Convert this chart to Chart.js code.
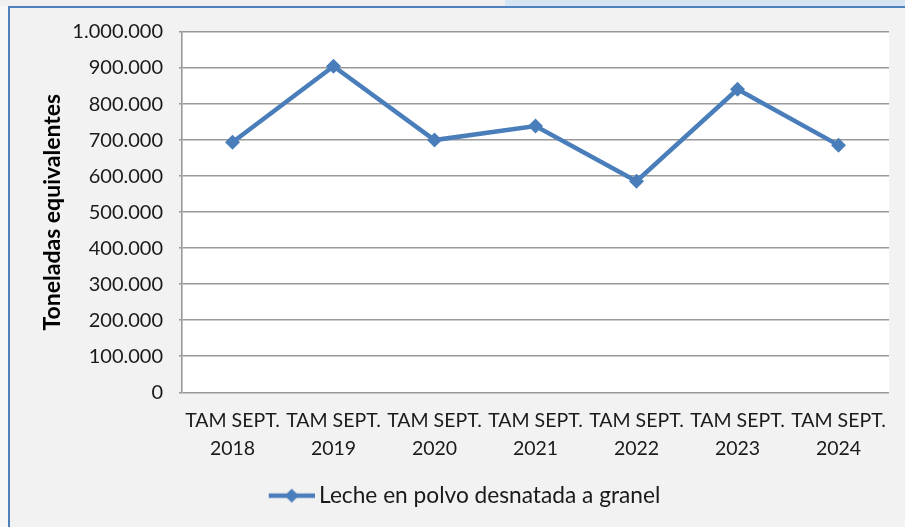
<!DOCTYPE html>
<html>
<head>
<meta charset="utf-8">
<script src="https://cdn.jsdelivr.net/npm/chart.js@4"></script>
<style>
  html, body { margin: 0; padding: 0; background: #f2f2f2; }
  #wrap { width: 905px; height: 527px; }
</style>
</head>
<body>
<div id="wrap"><canvas id="myChart" width="905" height="527"></canvas></div>
<script>
const categories = [
  ['TAM SEPT.', '2018'],
  ['TAM SEPT.', '2019'],
  ['TAM SEPT.', '2020'],
  ['TAM SEPT.', '2021'],
  ['TAM SEPT.', '2022'],
  ['TAM SEPT.', '2023'],
  ['TAM SEPT.', '2024']
];
const lecheValues = [694000, 905000, 700000, 739000, 586000, 841000, 686000];
const seriesName = 'Leche en polvo desnatada a granel';
const yTitle = 'Toneladas equivalentes';
const yMax = 1000000;
const yStep = 100000;

const blue = '#4a7ebb';
const font = 'Lato, "Noto Sans", sans-serif';

// legend marker: line with a diamond, left part transparent to push the item right
const legendIcon = document.createElement('canvas');
legendIcon.width = 93;
legendIcon.height = 16;
(() => {
  const c = legendIcon.getContext('2d');
  c.strokeStyle = blue;
  c.lineWidth = 4.5;
  c.beginPath();
  c.moveTo(47, 8);
  c.lineTo(93, 8);
  c.stroke();
  c.fillStyle = blue;
  c.beginPath();
  c.moveTo(70, 1);
  c.lineTo(77, 8);
  c.lineTo(70, 15);
  c.lineTo(63, 8);
  c.closePath();
  c.fill();
})();

const frame = {
  id: 'frame',
  beforeDraw(chart) {
    const ctx = chart.ctx;
    const a = chart.chartArea;
    ctx.save();
    ctx.fillStyle = '#f2f2f2';
    ctx.fillRect(0, 0, chart.width, chart.height);
    ctx.fillStyle = '#f7f7f7';
    ctx.fillRect(0, 0, 8, chart.height);
    ctx.fillStyle = '#f0f0f0';
    ctx.fillRect(0, 0, 505, 6);
    ctx.fillStyle = '#d6e5f3';
    ctx.fillRect(505, 0, chart.width - 505, 6);
    ctx.fillStyle = '#4f81bd';
    ctx.fillRect(8, 6, chart.width - 8, 2);
    ctx.fillRect(8, 6, 2, chart.height - 6);
    ctx.fillStyle = '#ffffff';
    ctx.fillRect(a.left, a.top, a.right - a.left, a.bottom - a.top);
    ctx.restore();
  }
};

new Chart(document.getElementById('myChart'), {
  type: 'line',
  data: {
    labels: categories,
    datasets: [{
      label: seriesName,
      data: lecheValues,
      borderColor: blue,
      backgroundColor: blue,
      borderWidth: 4.5,
      pointStyle: 'rectRot',
      pointRadius: 7.5,
      pointHoverRadius: 7.5,
      pointBorderWidth: 0,
      tension: 0
    }]
  },
  options: {
    responsive: false,
    animation: false,
    events: [],
    layout: { padding: { top: 32, right: 16, left: 0, bottom: 10 } },
    plugins: {
      tooltip: { enabled: false },
      legend: {
        position: 'bottom',
        labels: {
          usePointStyle: true,
          pointStyle: legendIcon,
          pointStyleWidth: 79,
          boxHeight: 16,
          padding: 10,
          color: '#1a1a1a',
          font: { family: font, size: 22.7 }
        }
      }
    },
    scales: {
      x: {
        offset: true,
        grid: { display: false, drawTicks: false },
        border: { display: false },
        ticks: {
          padding: 15,
          color: '#1a1a1a',
          maxRotation: 0,
          autoSkip: false,
          font: { family: font, size: 19.5, lineHeight: 1.4 }
        },
        afterFit(scale) { scale.height = 82; }
      },
      y: {
        min: 0,
        max: yMax,
        ticks: {
          stepSize: yStep,
          padding: 16,
          color: '#1a1a1a',
          font: { family: font, size: 20 },
          callback: v => v.toLocaleString('de-DE')
        },
        grid: { color: '#999999', lineWidth: 1.6, tickLength: 3, tickColor: '#999999' },
        border: { display: true, color: '#999999', width: 1.6 },
        title: {
          display: true,
          text: yTitle,
          color: '#000000',
          font: { family: font, size: 23, weight: 'bold' },
          padding: { top: 39 }
        },
        afterFit(scale) { scale.width = 182; }
      }
    }
  },
  plugins: [frame]
});
</script>
</body>
</html>
